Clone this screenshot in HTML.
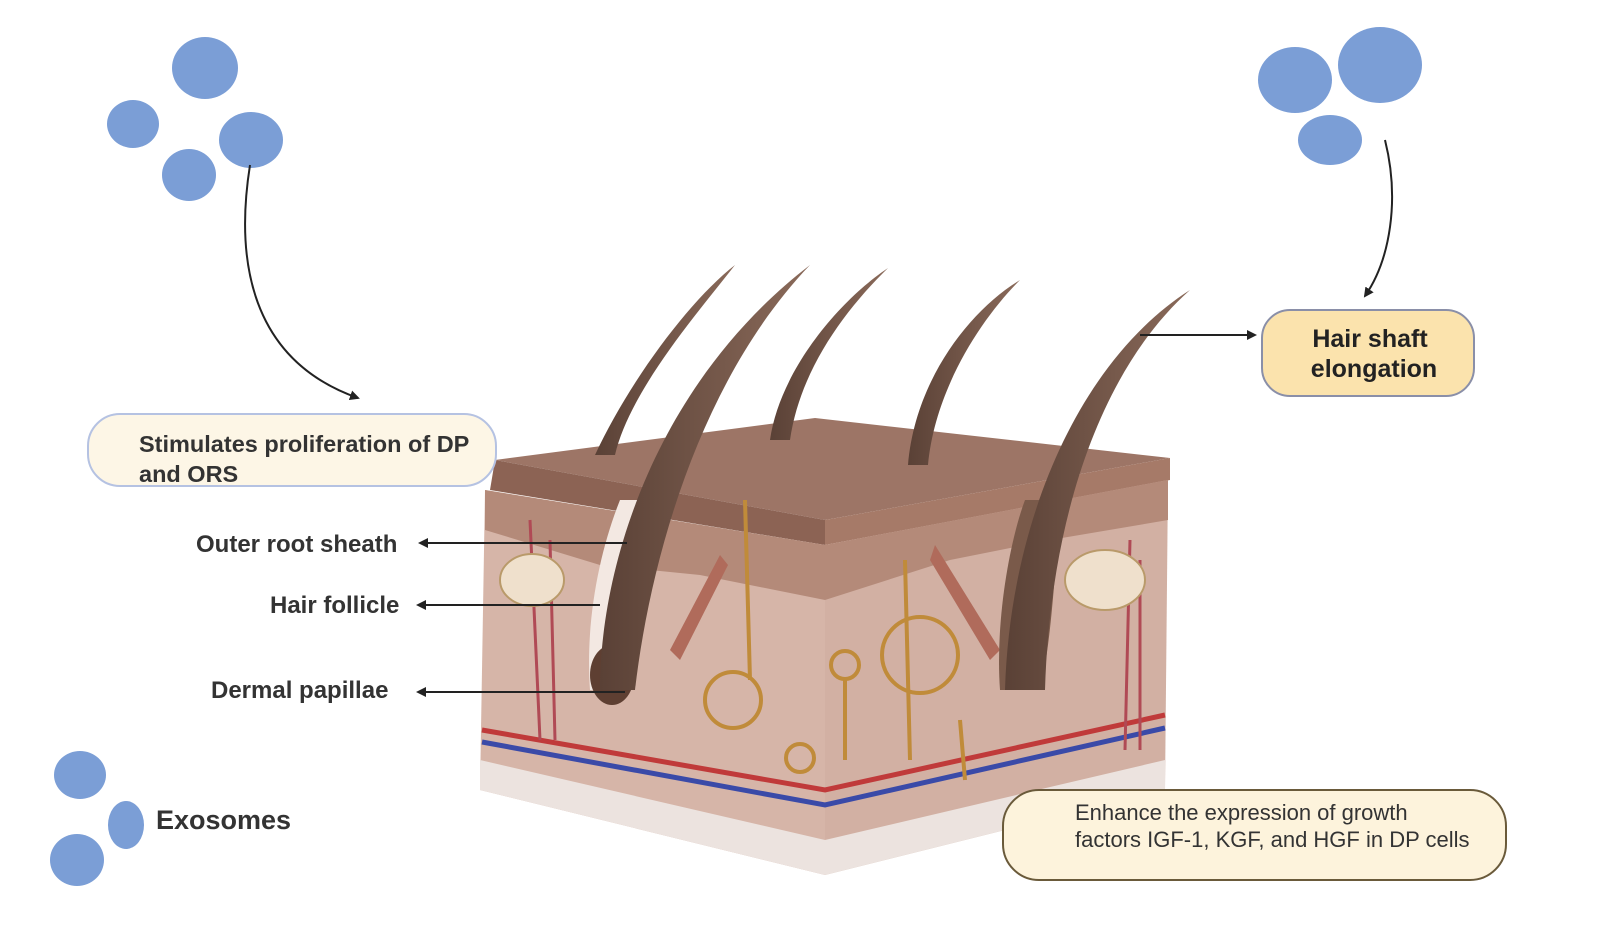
<!DOCTYPE html>
<html><head><meta charset="utf-8"><style>
html,body{margin:0;padding:0;background:#fff;}
svg{display:block;font-family:"Liberation Sans",Arial,sans-serif;}
</style></head><body>
<svg width="1600" height="926" viewBox="0 0 1600 926" xmlns="http://www.w3.org/2000/svg">
<defs>
<marker id="ah" markerWidth="10" markerHeight="10" refX="8" refY="5" orient="auto" markerUnits="userSpaceOnUse"><path d="M0,0 L10,5 L0,10 z" fill="#222"/></marker>
<linearGradient id="hair" x1="0" y1="0" x2="1" y2="0"><stop offset="0" stop-color="#5a4136"/><stop offset="1" stop-color="#8a6a5a"/></linearGradient>
</defs>
<g fill="#7b9ed6">
<ellipse cx="205" cy="68" rx="33" ry="31"/>
<ellipse cx="133" cy="124" rx="26" ry="24"/>
<ellipse cx="251" cy="140" rx="32" ry="28"/>
<ellipse cx="189" cy="175" rx="27" ry="26"/>
<ellipse cx="1295" cy="80" rx="37" ry="33"/>
<ellipse cx="1380" cy="65" rx="42" ry="38"/>
<ellipse cx="1330" cy="140" rx="32" ry="25"/>
<ellipse cx="80" cy="775" rx="26" ry="24"/>
<ellipse cx="126" cy="825" rx="18" ry="24"/>
<ellipse cx="77" cy="860" rx="27" ry="26"/>
</g>
<text x="156" y="829" font-size="27" font-weight="bold" fill="#333">Exosomes</text>
<path d="M250,165 C235,260 250,360 358,398" fill="none" stroke="#222" stroke-width="2" marker-end="url(#ah)"/>
<path d="M1385,140 C1400,200 1390,260 1365,296" fill="none" stroke="#222" stroke-width="2" marker-end="url(#ah)"/>
<polygon points="495,460 815,418 1170,458 825,520" fill="#9d7566"/>
<polygon points="495,460 825,520 825,545 490,490" fill="#8c6354"/>
<polygon points="825,520 1170,458 1170,480 825,545" fill="#a67a68"/>
<polygon points="485,490 825,545 825,875 480,790" fill="#d6b5a8"/>
<polygon points="825,545 1168,480 1165,790 825,875" fill="#d2b0a3"/>
<polygon points="485,490 825,545 825,600 700,575 600,565 485,530" fill="#b48a79"/>
<polygon points="825,545 1168,480 1168,520 1050,540 950,560 825,600" fill="#b48a79"/>
<polygon points="480,760 825,840 1165,760 1165,790 825,875 480,790" fill="#ece3df"/>
<path d="M482,730 L825,790 L1165,715" fill="none" stroke="#c03a3a" stroke-width="5"/>
<path d="M482,742 L825,805 L1165,728" fill="none" stroke="#3a4aa8" stroke-width="5"/>
<path d="M530,520 L540,740 M550,540 L555,740 M1130,540 L1125,750 M1140,560 L1140,750" stroke="#b04a55" stroke-width="3" fill="none"/>
<ellipse cx="532" cy="580" rx="32" ry="26" fill="#efe0cc" stroke="#b99a6a" stroke-width="2"/>
<ellipse cx="1105" cy="580" rx="40" ry="30" fill="#efe0cc" stroke="#b99a6a" stroke-width="2"/>
<g fill="none" stroke="#c08b3a" stroke-width="4">
<circle cx="733" cy="700" r="28"/><circle cx="920" cy="655" r="38"/><circle cx="845" cy="665" r="14"/><circle cx="800" cy="758" r="14"/>
<path d="M745,500 L750,680 M905,560 L910,760 M845,680 L845,760 M960,720 L965,780"/>
</g>
<path d="M670,650 L720,555 L728,565 L680,660 Z" fill="#b06b5b"/>
<path d="M935,545 L1000,650 L990,660 L930,560 Z" fill="#b06b5b"/>
<path d="M590,690 C585,620 600,550 620,500 L650,500 C640,560 640,640 635,690 Z" fill="#f3e8e2"/>
<ellipse cx="612" cy="675" rx="22" ry="30" fill="#5e3f32"/>
<path d="M1000,690 C995,620 1010,540 1025,500 L1060,500 C1055,580 1050,650 1040,690 Z" fill="#7a5a4a"/>
<g fill="url(#hair)">
<path d="M595,455 C630,380 690,300 735,265 C700,310 630,390 615,455 Z"/>
<path d="M600,690 C600,560 660,380 810,265 C700,380 650,560 635,690 Z"/>
<path d="M770,440 C780,370 840,300 888,268 C845,310 800,370 790,440 Z"/>
<path d="M908,465 C915,380 970,310 1020,280 C980,320 935,390 928,465 Z"/>
<path d="M1005,690 C1010,520 1080,360 1190,290 C1100,370 1050,520 1045,690 Z"/>
</g>
<path d="M1140,335 L1255,335" stroke="#222" stroke-width="2" marker-end="url(#ah)"/>
<rect x="1262" y="310" width="212" height="86" rx="28" fill="#fbe3ad" stroke="#8a8fa8" stroke-width="2"/>
<text x="1370" y="347" font-size="25" font-weight="bold" fill="#222" text-anchor="middle">Hair shaft</text>
<text x="1374" y="377" font-size="25" font-weight="bold" fill="#222" text-anchor="middle">elongation</text>
<rect x="88" y="414" width="408" height="72" rx="32" fill="#fdf6e6" stroke="#b5c2e2" stroke-width="2"/>
<text x="139" y="452" font-size="23.5" font-weight="bold" fill="#333">Stimulates proliferation of DP</text>
<text x="139" y="482" font-size="23.5" font-weight="bold" fill="#333">and ORS</text>
<text x="196" y="552" font-size="24" font-weight="bold" fill="#333">Outer root sheath</text>
<path d="M627,543 L420,543" stroke="#222" stroke-width="2" marker-end="url(#ah)"/>
<text x="270" y="613" font-size="24" font-weight="bold" fill="#333">Hair follicle</text>
<path d="M600,605 L418,605" stroke="#222" stroke-width="2" marker-end="url(#ah)"/>
<text x="211" y="698" font-size="24" font-weight="bold" fill="#333">Dermal papillae</text>
<path d="M625,692 L418,692" stroke="#222" stroke-width="2" marker-end="url(#ah)"/>
<rect x="1003" y="790" width="503" height="90" rx="36" fill="#fdf3dc" stroke="#6a5a3a" stroke-width="2"/>
<text x="1075" y="820" font-size="22" fill="#333">Enhance the expression of growth</text>
<text x="1075" y="847" font-size="22" fill="#333">factors IGF-1, KGF, and HGF in DP cells</text>
</svg>
</body></html>
